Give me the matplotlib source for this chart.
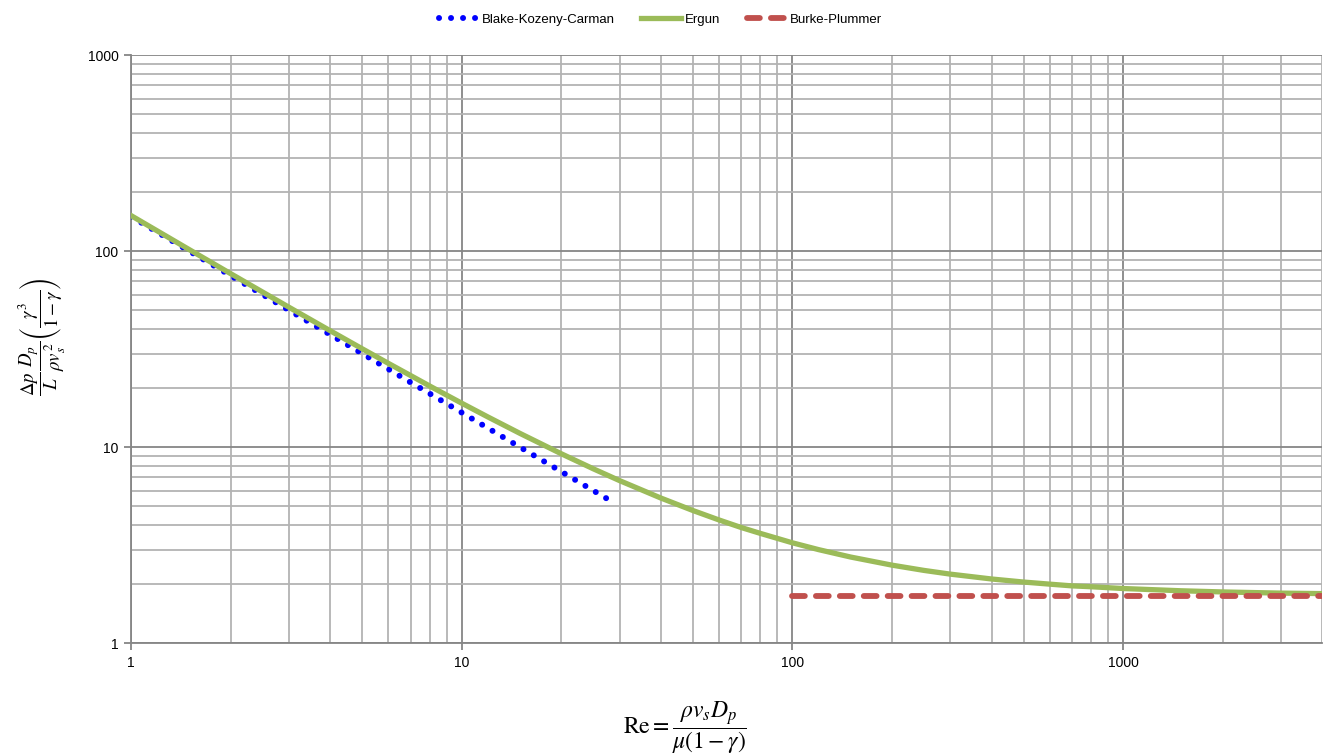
import matplotlib
matplotlib.use('Agg')
import matplotlib.pyplot as plt
from matplotlib.ticker import FixedLocator, NullFormatter, FixedFormatter

plt.rcParams['font.family'] = ['Liberation Sans', 'DejaVu Sans']
plt.rcParams['mathtext.fontset'] = 'stix'

# values
re_ergun = [1, 1.5, 2, 3, 4, 5, 6, 7, 8, 10, 12, 15, 20, 25, 30, 40, 50, 60, 70, 80,
            100, 120, 150, 200, 250, 300, 400, 500, 600, 700, 800, 1000, 1500, 2000, 3000, 4000]
f_ergun = [151.75, 101.75, 76.75, 51.75, 39.25, 31.75, 26.75, 23.2, 20.5, 16.75, 14.25,
           11.75, 9.25, 7.75, 6.75, 5.5, 4.75, 4.25, 3.89, 3.63, 3.25, 3.0, 2.75, 2.5,
           2.35, 2.25, 2.125, 2.05, 2.0, 1.96, 1.94, 1.9, 1.85, 1.825, 1.8, 1.79]

re_bkc = [1, 1.5, 2, 3, 4, 5, 6, 7, 8, 10, 12, 15, 20, 25, 28]
f_bkc = [150, 100, 75, 50, 37.5, 30, 25, 21.4, 18.75, 15, 12.5, 10, 7.5, 6, 5.36]

re_bp = [100, 4000]
f_bp = [1.75, 1.75]

x_ticks = [1, 10, 100, 1000]
y_ticks = [1, 10, 100, 1000]

fig = plt.figure(figsize=(13.25, 7.54), dpi=100)
ax = fig.add_axes([0.0989, 0.147, 0.899, 0.78])

ax.plot(re_bkc, f_bkc, color='#0000ff', lw=4.3, linestyle=(0, (0.01, 2.0)),
        dash_capstyle='round', label='Blake-Kozeny-Carman', zorder=3)
ax.plot(re_ergun, f_ergun, color='#9bbb59', lw=3.8, label='Ergun', zorder=4)
ax.plot(re_bp, f_bp, color='#c0504d', lw=4.2, linestyle=(0, (2.2, 1.9)),
        dash_capstyle='round', label='Burke-Plummer', zorder=5)

ax.set_xscale('log')
ax.set_yscale('log')
ax.set_xlim(1, 4000)
ax.set_ylim(1, 1000)

ax.xaxis.set_major_locator(FixedLocator(x_ticks))
ax.xaxis.set_major_formatter(FixedFormatter([str(v) for v in x_ticks]))
ax.yaxis.set_major_locator(FixedLocator(y_ticks))
ax.yaxis.set_major_formatter(FixedFormatter([str(v) for v in y_ticks]))
minors = [m * 10 ** k for k in range(0, 4) for m in range(2, 10)]
ax.xaxis.set_minor_locator(FixedLocator(minors))
ax.yaxis.set_minor_locator(FixedLocator(minors))
ax.xaxis.set_minor_formatter(NullFormatter())
ax.yaxis.set_minor_formatter(NullFormatter())

ax.grid(which='major', color='#868686', lw=1.3)
ax.grid(which='minor', color='#b3b3b3', lw=1.3)
ax.set_axisbelow(True)
ax.tick_params(which='major', direction='out', length=5, width=1.3, color='#868686',
               labelsize=10, pad=4)
ax.tick_params(which='minor', length=0)
for s in ['top', 'right']:
    ax.spines[s].set_visible(False)
for s in ['left', 'bottom']:
    ax.spines[s].set_color('#868686')
    ax.spines[s].set_linewidth(1.3)

fig.legend(loc='upper center', bbox_to_anchor=(0.4985, 0.998), ncol=3, frameon=False,
           fontsize=9.5, handlelength=3.0, handletextpad=0.3, columnspacing=2.0)

fig.text(0.517, 0.035, r'$\mathrm{Re} = \dfrac{\rho v_s D_p}{\mu\left(1-\gamma\right)}$',
         ha='center', va='center', fontsize=17)
fig.text(0.032, 0.553,
         r'$\dfrac{\Delta p}{L}\dfrac{D_p}{\rho v_s^{\,2}}\left(\dfrac{\gamma^3}{1-\gamma}\right)$',
         ha='center', va='center', rotation=90, fontsize=13.5)

fig.savefig('out.png', dpi=100)
